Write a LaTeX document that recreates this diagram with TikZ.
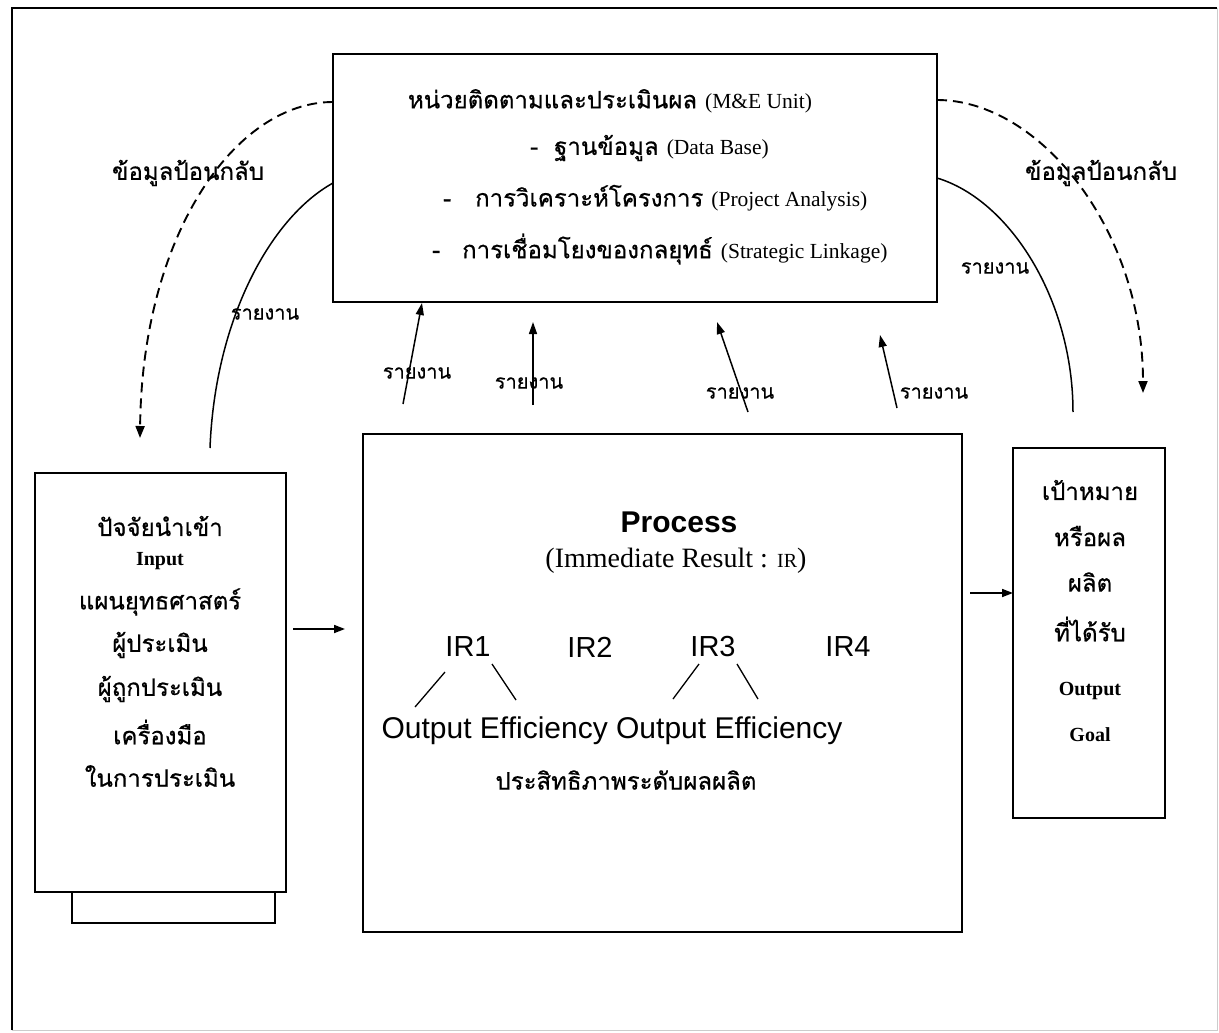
\documentclass[tikz,border=0pt]{standalone}
\usepackage{fontspec}
\setmainfont{Liberation Serif}
\newfontfamily\thai[Script=Thai,FakeBold=0.6]{Loma}
\newfontfamily\arial{Liberation Sans}
\usetikzlibrary{arrows.meta}

\newcommand\thbig{\fontsize{24}{28}\selectfont}
\newcommand\thsmall{\fontsize{20}{24}\selectfont}
\newcommand\lat{\fontsize{21.5}{24}\selectfont}

\tikzset{
  box/.style={draw, line width=1.4pt},
  txt/.style={inner sep=0pt, font=\thai\thbig},
  lbl/.style={inner sep=0pt, font=\thai\thsmall},
  eng/.style={inner sep=0pt, font=\fontsize{20}{23}\selectfont\bfseries},
  sans/.style={inner sep=0pt, font=\arial\fontsize{29}{32}\selectfont},
  report/.style={line width=1.5pt, -{Triangle[length=12pt,width=8pt]}},
  feedback/.style={line width=1.9pt, dash pattern=on 10pt off 6pt, -{Triangle[length=12pt,width=9pt]}},
  flow/.style={line width=1.7pt, -{Triangle[length=11pt,width=8pt]}},
  tick/.style={line width=1.3pt}
}

\begin{document}
\begin{tikzpicture}[x=1pt, y=-1pt]
\useasboundingbox (0,0) rectangle (1219,1033);
\fill[white] (0,0) rectangle (1219,1033);

% page frame
\draw[line width=1.6pt] (12,1030) -- (12,8) -- (1217,8);
\draw[line width=0.6pt, black!20] (1217,8) -- (1217,1030) -- (12,1030);

% monitoring and evaluation unit
\draw[box] (333,54) rectangle (937,302);
\coordinate (me-l1) at (333,102);
\coordinate (me-l2) at (333,183);
\coordinate (me-r1) at (937,100);
\coordinate (me-r2) at (937,178);
\node[txt] (me-title) at (610,101) {หน่วยติดตามและประเมินผล {\rmfamily\lat (M\&E Unit)}};
\node[txt, anchor=west] (me-a) at (530,148) {-\hspace{16pt}ฐานข้อมูล {\rmfamily\lat (Data Base)}};
\node[txt, anchor=west] (me-b) at (443,198) {-\hspace{24pt}การวิเคราะห์โครงการ {\rmfamily\lat (Project Analysis)}};
\node[txt, anchor=west] (me-c) at (432,249) {-\hspace{22pt}การเชื่อมโยงของกลยุทธ์ {\rmfamily\lat (Strategic Linkage)}};

% input box
\draw[box] (35,473) rectangle (286,892);
\draw[box] (72,892) rectangle (275,923);
\node[txt] (in1) at (160,526) {ปัจจัยนำเข้า};
\node[eng] (in2) at (160,561) {Input};
\node[txt] (in3) at (160,602) {แผนยุทธศาสตร์};
\node[txt] (in4) at (160,645) {ผู้ประเมิน};
\node[txt] (in5) at (160,689) {ผู้ถูกประเมิน};
\node[txt] (in6) at (160,732) {เครื่องมือ};
\node[txt] (in7) at (160,776) {ในการประเมิน};

% process box
\draw[box] (363,434) rectangle (962,932);
\node[inner sep=0pt, font=\arial\bfseries\fontsize{30}{33}\selectfont] (proc) at (679,522) {Process};
\node[inner sep=0pt, font=\fontsize{28}{31}\selectfont] (imm) at (676,561) {(Immediate Result : {\fontsize{20}{23}\selectfont IR})};
\node[sans] (ir1) at (468,647) {IR1};
\node[sans] (ir2) at (590,647) {IR2};
\node[sans] (ir3) at (713,647) {IR3};
\node[sans] (ir4) at (848,647) {IR4};
\node[inner sep=0pt, font=\arial\fontsize{30}{33}\selectfont] (oe) at (612,731) {Output Efficiency Output Efficiency};
\node[txt] (eff) at (626,780) {ประสิทธิภาพระดับผลผลิต};
\draw[tick] (445,672) -- (415,707);
\draw[tick] (492,664) -- (516,700);
\draw[tick] (699,664) -- (673,699);
\draw[tick] (737,664) -- (758,699);

% output box
\draw[box] (1013,448) rectangle (1165,818);
\node[txt] (out1) at (1090,490) {เป้าหมาย};
\node[txt] (out2) at (1090,536) {หรือผล};
\node[txt] (out3) at (1090,582) {ผลิต};
\node[txt] (out4) at (1090,629) {ที่ได้รับ};
\node[eng] (out5) at (1090,691) {Output};
\node[eng] (out6) at (1090,735) {Goal};

% main flow
\coordinate (in-e) at (293,629);
\coordinate (proc-w) at (345,629);
\coordinate (proc-e) at (970,593);
\coordinate (out-w) at (1013,593);
\draw[flow] (in-e) -- (proc-w);
\draw[flow] (proc-e) -- (out-w);

% reports from the process to the unit
\coordinate (r1s) at (403,404); \coordinate (r1e) at (422,303);
\coordinate (r2s) at (533,405); \coordinate (r2e) at (533,322);
\coordinate (r3s) at (748,412); \coordinate (r3e) at (717,322);
\coordinate (r4s) at (897,408); \coordinate (r4e) at (880,335);
\node[lbl] (rl1) at (417,373) {รายงาน};
\node[lbl] (rl2) at (529,383) {รายงาน};
\node[lbl] (rl3) at (740,393) {รายงาน};
\node[lbl] (rl4) at (934,393) {รายงาน};
\draw[report] (r1s) -- (r1e);
\draw[report] (r2s) -- (r2e);
\draw[report] (r3s) -- (r3e);
\draw[report] (r4s) -- (r4e);

% reports from input and output sides
\coordinate (in-top) at (210,448);
\coordinate (out-top) at (1073,412);
\draw[line width=1.5pt] (in-top) .. controls (215,320) and (270,218) .. (me-l2);
\draw[line width=1.5pt] (me-r2) .. controls (1010,200) and (1073,300) .. (out-top);
\node[lbl] (rl5) at (265,314) {รายงาน};
\node[lbl] (rl6) at (995,268) {รายงาน};

% feedback
\coordinate (fb-l) at (140,438);
\coordinate (fb-r) at (1143,393);
\draw[feedback] (me-l1) .. controls (235,102) and (142,235) .. (fb-l);
\draw[feedback] (me-r1) .. controls (1040,100) and (1143,230) .. (fb-r);
\node[txt] (fbl) at (188,173) {ข้อมูลป้อนกลับ};
\node[txt] (fbr) at (1101,173) {ข้อมูลป้อนกลับ};
\end{tikzpicture}
\end{document}
